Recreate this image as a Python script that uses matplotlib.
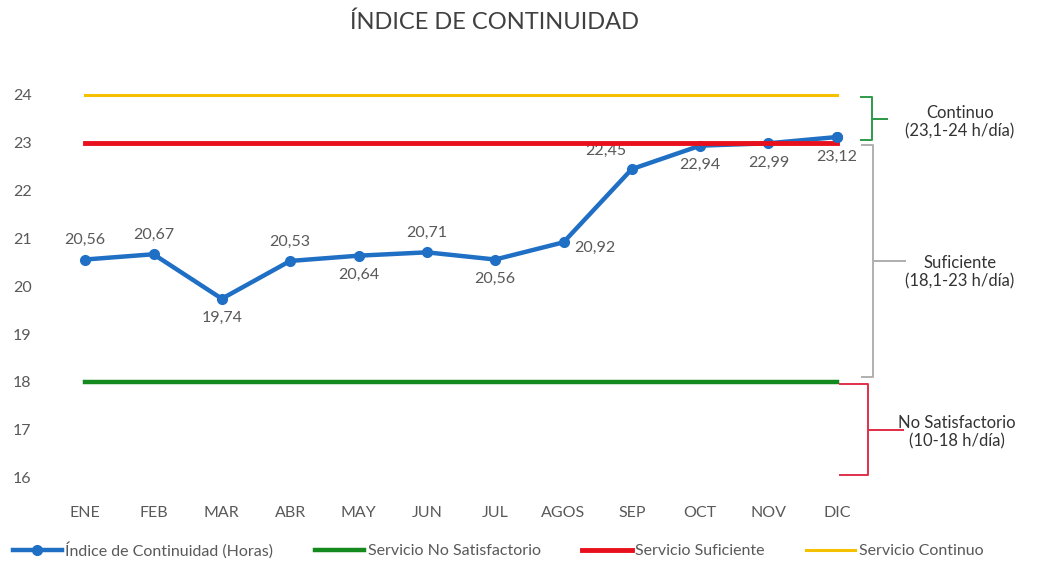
import numpy as np
import matplotlib.pyplot as plt
from matplotlib.transforms import blended_transform_factory

plt.rcParams['font.family'] = ['Lato', 'DejaVu Sans']

meses = ['ENE', 'FEB', 'MAR', 'ABR', 'MAY', 'JUN', 'JUL', 'AGOS', 'SEP', 'OCT', 'NOV', 'DIC']
indice = [20.56, 20.67, 19.74, 20.53, 20.64, 20.71, 20.56, 20.92, 22.45, 22.94, 22.99, 23.12]
no_satisfactorio = [18] * 12
suficiente = [23] * 12
continuo = [24] * 12
# posicion de cada etiqueta respecto al punto
pos_etiqueta = ['arriba', 'arriba', 'abajo', 'arriba', 'abajo', 'arriba', 'abajo',
                'derecha', 'izq', 'abajo', 'abajo', 'abajo']

gris = '#595959'
fig = plt.figure(figsize=(10.39, 5.61), dpi=100)
ax = fig.add_axes([51/1039, 1-492/561, 820/1039, (492-80.6)/561])
x = np.arange(len(meses))

ax.plot(x, indice, '-o', color='#1f6fc5', lw=3.2, ms=7, zorder=3,
        label='Índice de Continuidad (Horas)')
ax.plot(x, no_satisfactorio, color='#148a1e', lw=3.2, zorder=2, label='Servicio No Satisfactorio')
ax.plot(x, suficiente, color='#e8101c', lw=3.5, zorder=4, label='Servicio Suficiente')
ax.plot(x, continuo, color='#f5c000', lw=2.2, zorder=2, label='Servicio Continuo')
ax.plot(x[-1:], indice[-1:], 'o', color='#1f6fc5', ms=7, zorder=5)

for xi, v, p in zip(x, indice, pos_etiqueta):
    txt = ('%.2f' % v).replace('.', ',')
    if p == 'arriba':
        ax.annotate(txt, (xi, v), xytext=(0, 9), textcoords='offset points', ha='center', va='bottom', fontsize=11.5, color=gris)
    elif p == 'abajo':
        ax.annotate(txt, (xi, v), xytext=(0, -9), textcoords='offset points', ha='center', va='top', fontsize=11.5, color=gris)
    elif p == 'derecha':
        ax.annotate(txt, (xi, v), xytext=(8, -4), textcoords='offset points', ha='left', va='center', fontsize=11.5, color=gris)
    else:
        ax.annotate(txt, (xi, v), xytext=(-4, 8), textcoords='offset points', ha='right', va='bottom', fontsize=11.5, color=gris)

ax.set_xlim(-0.5, 11.5)
ax.set_ylim(15.7, 24.3)
ax.set_yticks(range(16, 25))
ax.set_xticks(x)
ax.set_xticklabels(meses)
ax.tick_params(length=0, labelsize=11.5, labelcolor=gris, pad=10)
ax.tick_params(axis='y', pad=14)
for s in ax.spines.values():
    s.set_visible(False)

fig.suptitle('ÍNDICE DE CONTINUIDAD', x=495/1039, y=1-22/561, va='center', fontsize=17, color='#404040')

# llaves de la derecha
tr = blended_transform_factory(fig.transFigure, ax.transData)
def llave(y0, y1, xa, xb, xp, color):
    ym = (y0 + y1) / 2
    xs = [xa, xb, xb, xp, xb, xb, xa]
    ys = [y1, y1, ym, ym, ym, y0, y0]
    ax.plot(np.array(xs)/1039, ys, color=color, lw=1.4, transform=tr, clip_on=False)

llave(23.05, 23.95, 861, 872, 887, '#2e9a4a')
llave(18.1, 22.95, 862, 873, 905, '#b0b0b0')
llave(16.05, 17.95, 840, 868, 903, '#e0304a')

fig.text(960/1039, 1-122/561, 'Continuo\n(23,1-24 h/día)', ha='center', va='center', fontsize=12, color='#333333', linespacing=1.2)
fig.text(960/1039, 1-272/561, 'Suficiente\n(18,1-23 h/día)', ha='center', va='center', fontsize=12, color='#333333', linespacing=1.2)
fig.text(957/1039, 1-432/561, 'No Satisfactorio\n(10-18 h/día)', ha='center', va='center', fontsize=12, color='#333333', linespacing=1.2)

leg = fig.legend(loc='center', bbox_to_anchor=(498/1039, 1-550/561), ncol=4, frameon=False,
                 fontsize=11.5, handlelength=3.1, handletextpad=0.2, columnspacing=2.6)
for t in leg.get_texts():
    t.set_color(gris)

plt.savefig('out.png', dpi=100)
